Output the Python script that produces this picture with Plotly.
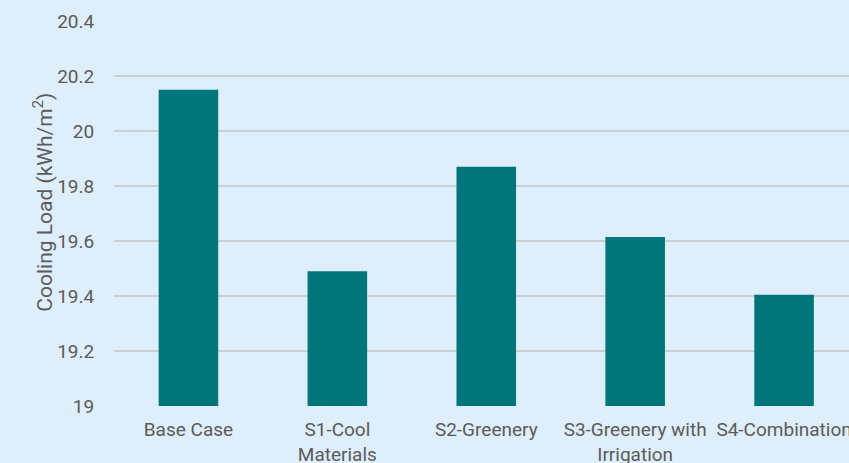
import plotly.graph_objects as go

# Scenario names and simulated cooling loads
scenarios = ["Base Case", "S1-Cool<br>Materials", "S2-Greenery",
             "S3-Greenery with<br>Irrigation", "S4-Combination"]
cooling_load = [20.15, 19.49, 19.87, 19.615, 19.405]

y_ticks = [19, 19.2, 19.4, 19.6, 19.8, 20, 20.2, 20.4]
y_tick_text = ["19", "19.2", "19.4", "19.6", "19.8", "20", "20.2", "20.4"]
y_title = "Cooling Load (kWh/m<sup>2</sup>)"

bg = "#dfeefb"
bar_color = "#00767a"
text_color = "#5b5b5b"

fig = go.Figure(
    go.Bar(
        x=list(range(len(scenarios))),
        y=cooling_load,
        marker=dict(color=bar_color, line=dict(width=0)),
        width=0.4,
    )
)

fig.update_layout(
    width=849,
    height=463,
    paper_bgcolor=bg,
    plot_bgcolor=bg,
    margin=dict(l=113.5, r=0, t=21, b=56.5),
    font=dict(family="Roboto", size=19, color=text_color),
    showlegend=False,
    bargap=0.6,
)

fig.update_xaxes(
    range=[-0.5, 4.436],
    tickmode="array",
    tickvals=list(range(len(scenarios))),
    ticktext=scenarios,
    showgrid=False,
    showline=False,
    zeroline=False,
    ticks="outside",
    ticklen=6,
    tickcolor="rgba(0,0,0,0)",
    tickfont=dict(size=19, color=text_color),
    ticklabeloverflow="allow",
    automargin=False,
)

fig.update_yaxes(
    range=[19, 20.4],
    tickmode="array",
    tickvals=y_ticks,
    ticktext=y_tick_text,
    showgrid=True,
    gridcolor="#cbcfd2",
    gridwidth=2,
    zeroline=False,
    showline=False,
    ticks="outside",
    ticklen=15,
    tickcolor="rgba(0,0,0,0)",
    tickfont=dict(size=19, color=text_color),
    automargin=False,
)

# Rotated axis title placed as an annotation
fig.add_annotation(
    text=y_title,
    textangle=-90,
    xref="paper", yref="paper",
    x=-0.097, y=0.53,
    xanchor="center", yanchor="middle",
    showarrow=False,
    font=dict(size=21, color=text_color),
)

fig.write_html("out.html")
